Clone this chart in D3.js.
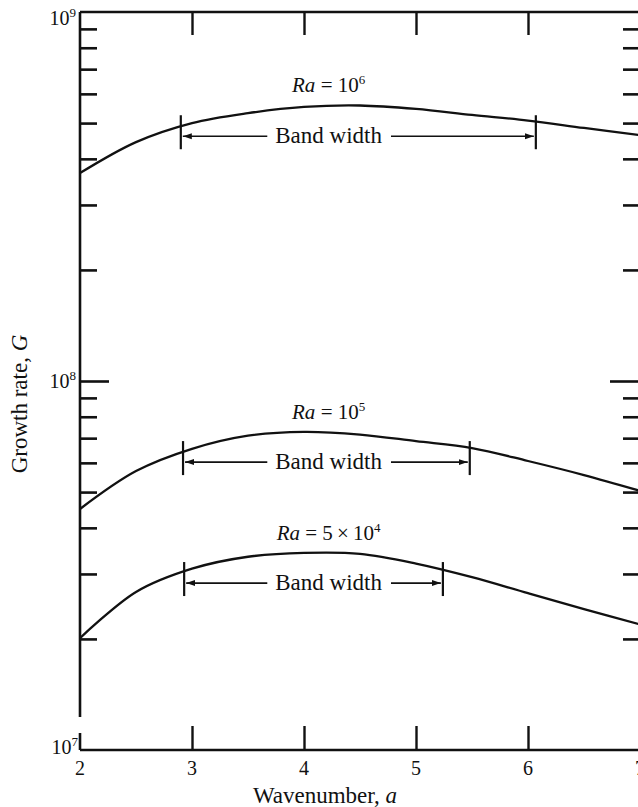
<!DOCTYPE html>
<html>
<head>
<meta charset="utf-8">
<script src="https://cdn.jsdelivr.net/npm/d3@7"></script>
<style>
	body { margin: 0; background: #fff; }
	svg text { font-family: "Liberation Serif", "Times New Roman", serif; fill: #111; }
</style>
</head>
<body>
<div id="chart"></div>
<script>
// values (G on a log scale)
var wavenumber = [2, 2.5, 3, 3.5, 4, 4.5, 5, 5.5, 6, 6.5, 7];
var growthRa1e6 = [3.66e8, 4.44e8, 5.0e8, 5.32e8, 5.53e8, 5.58e8, 5.46e8, 5.26e8, 5.08e8, 4.85e8, 4.64e8];
var growthRa1e5 = [4.5e7, 5.7e7, 6.55e7, 7.11e7, 7.28e7, 7.16e7, 6.87e7, 6.58e7, 6.07e7, 5.56e7, 5.04e7];
var growthRa5e4 = [2.01e7, 2.68e7, 3.1e7, 3.34e7, 3.42e7, 3.4e7, 3.2e7, 2.94e7, 2.66e7, 2.41e7, 2.19e7];

var seriesNames = ["1e6", "1e5", "5e4"];
var bandEdges = [[2.9, 6.07], [2.92, 5.48], [2.93, 5.24]];

var xTicks = [2, 3, 4, 5, 6, 7];
var xInnerTicks = [3, 4, 5, 6];
var yDecades = [1e7, 1e8, 1e9];
var yDecadeExp = ["7", "8", "9"];
var yMinor = [2e7, 3e7, 4e7, 5e7, 6e7, 7e7, 8e7, 9e7, 2e8, 3e8, 4e8, 5e8, 6e8, 7e8, 8e8, 9e8];

(function() {
	var series = [growthRa1e6, growthRa1e5, growthRa5e4];

	var svg = d3
		.select("#chart")
		.append("svg")
		.attr("width", 638)
		.attr("height", 807)
		.style("background-color", "white");

	var x = d3.scaleLinear().domain([2, 7]).range([80, 640]);
	var y = d3.scaleLog().domain([1e7, 1e9]).range([750, 12]);
	var ink = "#111";

	function styleAxis(g, w) {
		g.select(".domain").remove();
		g.selectAll(".tick line").attr("stroke", ink).attr("stroke-width", w);
	}

	// log-space linear interpolation along a series
	function valueAt(vals, a) {
		var i = Math.min(d3.bisectRight(wavenumber, a), wavenumber.length - 1);
		var a0 = wavenumber[i - 1], a1 = wavenumber[i];
		var t = (a - a0) / (a1 - a0);
		return Math.pow(10, Math.log10(vals[i - 1]) * (1 - t) + Math.log10(vals[i]) * t);
	}

	// frame lines
	var y0 = y(1e7);
	svg.append("line").attr("x1", x(2)).attr("x2", x(2)).attr("y1", y(1e9)).attr("y2", y0 - 33)
		.attr("stroke", ink).attr("stroke-width", 2.6);
	svg.append("line").attr("x1", x(2)).attr("x2", x(2)).attr("y1", y0 - 17).attr("y2", y0)
		.attr("stroke", ink).attr("stroke-width", 2.6);
	svg.append("line").attr("x1", x(2)).attr("x2", x(7)).attr("y1", y0).attr("y2", y0)
		.attr("stroke", ink).attr("stroke-width", 2.6);
	svg.append("line").attr("x1", x(2)).attr("x2", x(7)).attr("y1", y(1e9)).attr("y2", y(1e9))
		.attr("stroke", ink).attr("stroke-width", 2.6);

	// inward ticks
	svg.append("g").attr("transform", "translate(0," + y0 + ")")
		.call(d3.axisTop(x).tickValues(xInnerTicks).tickSize(24).tickFormat(""))
		.call(styleAxis, 2.4);
	svg.append("g").attr("transform", "translate(0," + y(1e9) + ")")
		.call(d3.axisBottom(x).tickValues(xInnerTicks).tickSize(23).tickFormat(""))
		.call(styleAxis, 2.4);
	svg.append("g").attr("transform", "translate(" + x(2) + ",0)")
		.call(d3.axisRight(y).tickValues(yMinor).tickSize(17).tickFormat(""))
		.call(styleAxis, 2.6);
	svg.append("g").attr("transform", "translate(" + x(2) + ",0)")
		.call(d3.axisRight(y).tickValues([1e8]).tickSize(29).tickFormat(""))
		.call(styleAxis, 2.6);
	svg.append("g").attr("transform", "translate(" + x(7) + ",0)")
		.call(d3.axisLeft(y).tickValues(yMinor).tickSize(17).tickFormat(""))
		.call(styleAxis, 2.6);
	svg.append("g").attr("transform", "translate(" + x(7) + ",0)")
		.call(d3.axisLeft(y).tickValues([1e8]).tickSize(30).tickFormat(""))
		.call(styleAxis, 2.6);

	// tick labels
	svg.selectAll(".xlab")
		.data(xTicks)
		.enter()
		.append("text")
		.attr("x", function(d) { return x(d); })
		.attr("y", y0 + 25)
		.attr("text-anchor", "middle")
		.attr("font-size", 20)
		.text(function(d) { return d; });

	var labDy = [4, 7, 13];
	var ylab = svg.selectAll(".ylab")
		.data(yDecades)
		.enter()
		.append("text")
		.attr("x", function(d, i) { return i === 0 ? 78 : 76; })
		.attr("y", function(d, i) { return y(d) + labDy[i]; })
		.attr("text-anchor", "end")
		.attr("font-size", 20);
	ylab.append("tspan").text("10");
	ylab.append("tspan")
		.attr("font-size", 13)
		.attr("dy", -8)
		.text(function(d, i) { return yDecadeExp[i]; });

	// axis titles
	var xt = svg.append("text")
		.attr("x", 325)
		.attr("y", 803)
		.attr("text-anchor", "middle")
		.attr("font-size", 23);
	xt.append("tspan").text("Wavenumber, ");
	xt.append("tspan").attr("font-style", "italic").text("a");

	var yt = svg.append("text")
		.attr("transform", "translate(27,404) rotate(-90)")
		.attr("text-anchor", "middle")
		.attr("font-size", 23);
	yt.append("tspan").text("Growth rate, ");
	yt.append("tspan").attr("font-style", "italic").text("G");

	// curves
	var line = d3.line()
		.x(function(d, i) { return x(wavenumber[i]); })
		.y(function(d) { return y(d); })
		.curve(d3.curveCatmullRom.alpha(0.5));

	svg.selectAll(".curve")
		.data(series)
		.enter()
		.append("path")
		.attr("fill", "none")
		.attr("stroke", ink)
		.attr("stroke-width", 2.3)
		.attr("d", line);

	svg.append("defs")
		.append("marker")
		.attr("id", "arrow")
		.attr("markerUnits", "userSpaceOnUse")
		.attr("viewBox", "0 -4 9 8")
		.attr("refX", 9)
		.attr("refY", 0)
		.attr("markerWidth", 9)
		.attr("markerHeight", 8)
		.attr("orient", "auto")
		.append("path")
		.attr("d", "M0,-3L9,0L0,3Z")
		.attr("fill", ink);

	// Ra labels and band width markers
	series.forEach(function(vals, k) {
		var peak = d3.max(vals);
		var cx = x(4.22);

		var ra = svg.append("text")
			.attr("x", cx)
			.attr("y", y(peak) - 13)
			.attr("text-anchor", "middle")
			.attr("font-size", 21);
		ra.append("tspan").attr("font-style", "italic").text("Ra");
		if (seriesNames[k] === "5e4") {
			ra.append("tspan").text(" = 5\u2009\u00d7\u200910");
			ra.append("tspan").attr("font-size", 13).attr("dy", -8).text("4");
		} else {
			ra.append("tspan").text(" = 10");
			ra.append("tspan").attr("font-size", 13).attr("dy", -8).text(seriesNames[k] === "1e6" ? "6" : "5");
		}

		var b = bandEdges[k];
		var ya = (y(valueAt(vals, b[0])) + y(valueAt(vals, b[1]))) / 2 + 12;

		b.forEach(function(a) {
			svg.append("line")
				.attr("x1", x(a)).attr("x2", x(a))
				.attr("y1", ya - 21).attr("y2", ya + 13)
				.attr("stroke", ink).attr("stroke-width", 2.2);
		});

		var bt = svg.append("text")
			.attr("x", cx)
			.attr("y", ya + 7)
			.attr("text-anchor", "middle")
			.attr("font-size", 23)
			.text("Band width");
		var tw = bt.node().getComputedTextLength();

		svg.append("line")
			.attr("x1", cx - tw / 2 - 8).attr("x2", x(b[0]) + 2)
			.attr("y1", ya).attr("y2", ya)
			.attr("stroke", ink).attr("stroke-width", 1.7)
			.attr("marker-end", "url(#arrow)");
		svg.append("line")
			.attr("x1", cx + tw / 2 + 9).attr("x2", x(b[1]) - 2)
			.attr("y1", ya).attr("y2", ya)
			.attr("stroke", ink).attr("stroke-width", 1.7)
			.attr("marker-end", "url(#arrow)");
	});
})();
</script>
</body>
</html>
